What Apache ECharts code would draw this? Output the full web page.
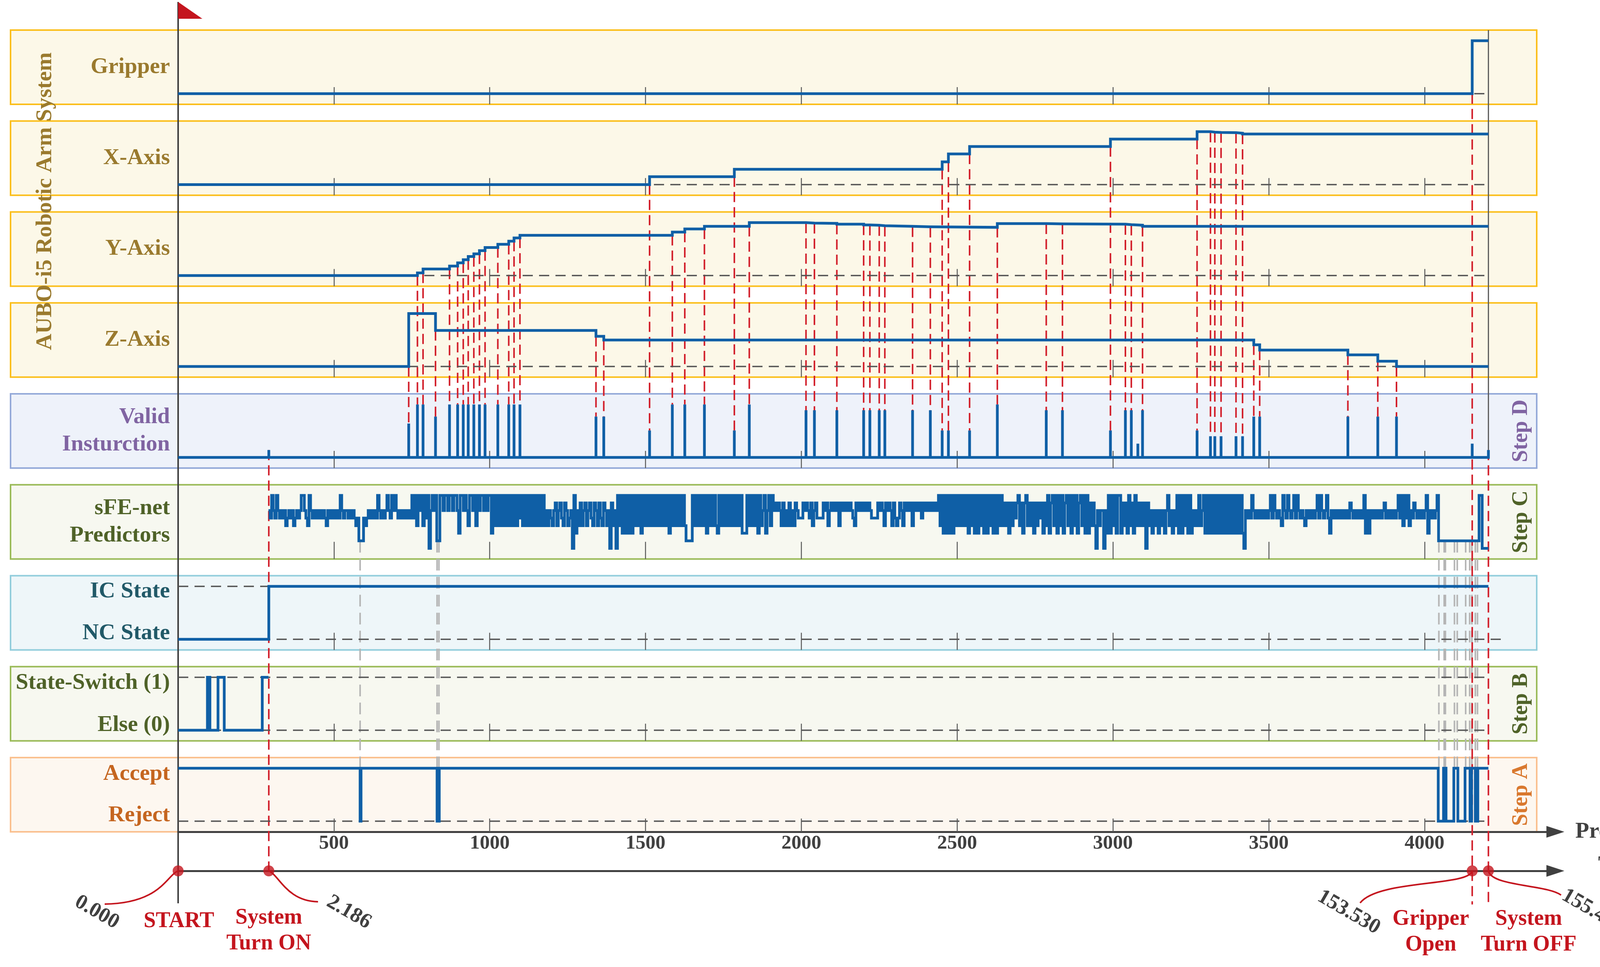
<!DOCTYPE html>
<html>
<head>
<meta charset="utf-8">
<script src="https://cdn.jsdelivr.net/npm/echarts@6.0.0/dist/echarts.min.js"></script>
<style>
html, body { margin: 0; padding: 0; background: #fff; }
#main { width: 4278px; height: 2475px; }
</style>
</head>
<body>
<div id="main"></div>
<script>
// ---- data (x in process units, levels normalised per panel) ----
var END = 4205;
var tickValues = [500, 1000, 1500, 2000, 2500, 3000, 3500, 4000];

var gripperSteps = [[0, 0], [4153, 1]];
var xAxisSteps = [[0, 0], [1513, 0.15], [1785, 0.29], [2452, 0.43], [2472, 0.58], [2540, 0.72], [2992, 0.86],
  [3270, 1.0], [3313, 0.99], [3327, 0.985], [3347, 0.98], [3395, 0.97], [3416, 0.955]];
var yAxisSteps = [[0, 0], [768, 0.05], [786, 0.125], [871, 0.18], [897, 0.24], [915, 0.30], [931, 0.36],
  [949, 0.41], [967, 0.47], [985, 0.53], [1026, 0.59], [1061, 0.65], [1078, 0.71], [1097, 0.76],
  [1586, 0.82], [1626, 0.88], [1689, 0.93], [1833, 1.0], [2015, 0.99], [2042, 0.985], [2114, 0.97],
  [2200, 0.955], [2220, 0.95], [2250, 0.94], [2268, 0.93], [2357, 0.92], [2414, 0.91], [2629, 0.98],
  [2786, 0.975], [2838, 0.97], [3040, 0.96], [3059, 0.95], [3095, 0.93]];
var zAxisSteps = [[0, 0], [740, 1.0], [826, 0.68], [1341, 0.57], [1366, 0.5], [3452, 0.41], [3471, 0.31],
  [3754, 0.22], [3850, 0.1], [3910, 0]];

var validX = [291, 740, 768, 786, 826, 871, 897, 915, 931, 949, 967, 985, 1026, 1061, 1078, 1097, 1341, 1366,
  1513, 1586, 1626, 1689, 1785, 1833, 2015, 2042, 2114, 2200, 2220, 2250, 2268, 2357, 2414, 2452, 2472, 2540,
  2629, 2786, 2838, 2992, 3040, 3059, 3080, 3095, 3270, 3313, 3327, 3347, 3395, 3416, 3452, 3471, 3754, 3850,
  3910, 4153, 4205];
var validH = [0.14, 0.64, 1, 1, 0.77, 1, 1, 1, 1, 1, 1, 1, 1, 1, 1, 1, 0.77, 0.77,
  0.51, 1, 1, 1, 0.51, 1, 0.89, 0.89, 0.89, 0.89, 0.89, 0.89, 0.89, 0.89, 0.89, 0.51, 0.51, 0.51,
  1, 0.89, 0.89, 0.51, 0.89, 0.89, 0.26, 0.89, 0.51, 0.4, 0.4, 0.4, 0.4, 0.4, 0.77, 0.77, 0.77, 0.77,
  0.77, 0.26, 0.14];

// sFE-net predictor class (0..7), one character per 5 process units from 290
var sfeStart = 290, sfeStep = 5;
var sfeLevels = [
  '54754754545345453454577543754545454543545454547545',
  '54545434111434545454754545754757545454545474737573',
  '74705757117757757757752775753775737577575772737373',
  '73737373737473737373737373735354356356436534507253',
  '63563564365364365350635073727272727373727373737373',
  '73737372737373737311117373737372737373273737373737',
  '37372227373737273572573756565363536353654446565463',
  '56444465635656563656565654365656565654444656536565',
  '36434653656563656564656565656573727272727373737372',
  '73727273727273727273736362636467362673636263646263',
  '72673727372673727372673727263630535505272737277263',
  '62736273636360635253525352573525372727372725353735',
  '72727272727272727272727272054547545454545457475454',
  '37547545747545435454545747545742545454545454654545',
  '45472525454545456454545457473747354654545457254545',
  '7' + '11111111111111111111111111' + '77' + '0000'
];

var icSteps = [[0, 0], [291, 1]];
var switchSteps = [[0, 0], [94, 1], [102, 0], [128, 1], [148, 0], [270, 1], [290, 1]];
var acceptSteps = [[0, 1], [584, 0], [587, 1], [831, 0], [838, 1], [4044, 0], [4061, 1], [4069, 0], [4094, 1],
  [4107, 0], [4130, 1], [4146, 0], [4151, 1], [4163, 0], [4171, 1]];
var greyLinkX = [584, 831, 837, 4046, 4063, 4067, 4096, 4105, 4132, 4145, 4152, 4163, 4170];

var eventX = [0, 291, 4153, 4205];
var eventTime = ['0.000', '2.186', '153.530', '155.479'];
var eventName = ['START', 'System\nTurn ON', 'Gripper\nOpen', 'System\nTurn OFF'];

// ---- layout ----
var PX = 0.7977, X0 = 456, XMAX = 4420;
var BOX_L = 27, BOX_R = 3934, TOP0 = 77, PITCH = 232.75, BOX_H = 190;
var BLUE = '#0f5fa6', RED = '#d21f2b', RED2 = '#c4151e', DARK = '#404040', SERIF = 'Liberation Serif';

var panels = [
  { fill: '#fcf8e8', stroke: '#fbbf1c', color: '#9a7a2e', labels: [[0.5, 'Gripper']] },
  { fill: '#fcf8e8', stroke: '#fbbf1c', color: '#9a7a2e', labels: [[0.5, 'X-Axis']] },
  { fill: '#fcf8e8', stroke: '#fbbf1c', color: '#9a7a2e', labels: [[0.5, 'Y-Axis']] },
  { fill: '#fcf8e8', stroke: '#fbbf1c', color: '#9a7a2e', labels: [[0.5, 'Z-Axis']] },
  { fill: '#eef2fa', stroke: '#95aad9', color: '#8064a2', labels: [[0.5, 'Valid\nInsturction']], step: 'Step D' },
  { fill: '#f7f8f0', stroke: '#9bbb59', color: '#4f6228', labels: [[3.5, 'sFE-net\nPredictors']], step: 'Step C', min: -1.4, max: 8.4 },
  { fill: '#eef6f9', stroke: '#92cddc', color: '#215968', labels: [[0.9, 'IC State'], [0.11, 'NC State']] },
  { fill: '#f7f8f0', stroke: '#9bbb59', color: '#4f6228', labels: [[0.89, 'State-Switch (1)'], [0.1, 'Else (0)']], step: 'Step B' },
  { fill: '#fdf7f0', stroke: '#fac08f', color: '#c5651f', labels: [[0.89, 'Accept'], [0.11, 'Reject']], step: 'Step A', stepColor: '#d9782e' }
];
var VALID = 4, SFE = 5, ACC = 8, TS = 9;

function withEnd(steps, end) {
  var d = steps.slice();
  d.push([end, steps[steps.length - 1][1]]);
  return d;
}
var sfeStr = sfeLevels.join('');
var sfeData = [];
for (var i = 0; i < sfeStr.length; i++) sfeData.push([sfeStart + i * sfeStep, +sfeStr[i]]);
sfeData.push([END, sfeData[sfeData.length - 1][1]]);
function sfeAt(x) { return +sfeStr[Math.floor((x - sfeStart) / sfeStep)]; }

var validData = [[0, 0]];
validX.forEach(function (x, k) {
  validData.push([x, 0], [x, validH[k]]);
  if (x < END) validData.push([x, 0]);
});

var panelData = [
  withEnd(gripperSteps, END), withEnd(xAxisSteps, END), withEnd(yAxisSteps, END), withEnd(zAxisSteps, END),
  validData, sfeData, withEnd(icSteps, END), switchSteps, withEnd(acceptSteps, END)
];
var refLines = [
  [[0, END]], [[0, END]], [[0, END]], [[0, END]], [], [],
  [[1, END], [0, 4245]], [[1, END], [0, END]], [[0, END]]
];

var grids = [], xAxes = [], yAxes = [], series = [];
panels.forEach(function (p, i) {
  var last = i === ACC;
  grids.push({ left: X0, top: TOP0 + i * PITCH, width: XMAX * PX, height: BOX_H });
  xAxes.push({
    type: 'value', gridIndex: i, min: 0, max: XMAX, z: 2,
    axisLine: { show: last, onZero: false, symbol: ['none', 'triangle'], symbolSize: [30, 46],
      lineStyle: { color: DARK, width: 5 } },
    axisTick: { show: true, inside: true, length: last ? 34 : 44, customValues: tickValues,
      lineStyle: { color: '#5a5a5a', width: 2.5 } },
    axisLabel: { show: last, customValues: tickValues, margin: 4, color: DARK,
      fontFamily: SERIF, fontWeight: 'bold', fontSize: 51,
      formatter: function (v) { return String(v); } },
    splitLine: { show: false },
    name: last ? 'Process' : '', nameLocation: 'end', nameGap: 51,
    nameTextStyle: { color: DARK, fontFamily: SERIF, fontWeight: 'bold', fontSize: 58 }
  });
  yAxes.push({
    type: 'value', gridIndex: i, min: p.min != null ? p.min : -0.2, max: p.max != null ? p.max : 1.2, z: 2,
    axisLine: { show: false }, axisTick: { show: false }, splitLine: { show: false },
    axisLabel: {
      customValues: p.labels.map(function (l) { return l[0]; }),
      formatter: function (v) {
        for (var k = 0; k < p.labels.length; k++) if (Math.abs(p.labels[k][0] - v) < 1e-6) return p.labels[k][1];
        return '';
      },
      margin: 21, color: p.color, fontFamily: SERIF, fontWeight: 'bold', fontSize: 58, lineHeight: 70
    }
  });
  refLines[i].forEach(function (r) {
    series.push({ type: 'line', xAxisIndex: i, yAxisIndex: i, data: [[0, r[0]], [r[1], r[0]]],
      symbol: 'none', silent: true, z: 4, lineStyle: { color: '#555', width: 3.5, type: [26, 16] } });
  });
  series.push({ type: 'line', xAxisIndex: i, yAxisIndex: i, data: panelData[i], step: i === VALID ? false : 'end',
    symbol: 'none', silent: true, z: 5, lineStyle: { color: BLUE, width: 7, join: 'miter' } });
});

// time axis (T/s)
grids.push({ left: X0, top: 2199, width: XMAX * PX, height: 30 });
xAxes.push({ type: 'value', gridIndex: TS, min: 0, max: XMAX, z: 2,
  axisLine: { show: true, onZero: false, symbol: ['none', 'triangle'], symbolSize: [30, 46],
    lineStyle: { color: DARK, width: 5 } },
  axisTick: { show: false }, axisLabel: { show: false }, splitLine: { show: false } });
yAxes.push({ type: 'value', gridIndex: TS, min: 0, max: 1, show: false });
series.push({ type: 'scatter', xAxisIndex: TS, yAxisIndex: TS, data: eventX.map(function (x) { return [x, 0]; }),
  symbolSize: 28, clip: false, silent: true, z: 6, itemStyle: { color: RED2 } });

var chart = echarts.init(document.getElementById('main'));
chart.setOption({ animation: false, backgroundColor: '#fff', grid: grids, xAxis: xAxes, yAxis: yAxes, series: series });

// ---- overlay drawn from the library's own scales ----
function P(g, x, y) { return chart.convertToPixel({ gridIndex: g }, [x, y]); }
function txt(x, y, text, color, size, rot, extra) {
  var st = { text: text, fill: color, font: 'bold ' + size + 'px "Liberation Serif"',
    align: 'center', verticalAlign: 'middle', textAlign: 'center', textVerticalAlign: 'middle' };
  if (extra) for (var k in extra) st[k] = extra[k];
  return { type: 'text', x: x, y: y, rotation: rot || 0, z: 4, silent: true, style: st };
}
function vline(x, y1, y2, color, w, dash, z) {
  return { type: 'line', z: z || 3, silent: true, shape: { x1: x, y1: y1, x2: x, y2: y2 },
    style: { stroke: color, lineWidth: w, lineDash: dash || null } };
}
var els = [];
panels.forEach(function (p, i) {
  var top = TOP0 + i * PITCH;
  els.push({ type: 'rect', z: 0, silent: true, shape: { x: BOX_L, y: top, width: BOX_R - BOX_L, height: BOX_H },
    style: { fill: p.fill, stroke: p.stroke, lineWidth: 4 } });
  if (p.step) els.push(txt(3895, top + BOX_H / 2, p.step, p.stepColor || p.color, 56, Math.PI / 2));
});
els.push(txt(116, 515, 'AUBO-i5 Robotic Arm System', '#9a7a2e', 58, Math.PI / 2));

var ax = P(0, 0, 0)[0];
els.push(vline(ax, 5, 2312, DARK, 4, null, 4));
els.push({ type: 'polygon', z: 4, silent: true, shape: { points: [[ax, 5], [ax + 62, 48], [ax, 48]] },
  style: { fill: RED2 } });
var endX = P(0, END, 0)[0];
els.push(vline(endX, TOP0, P(VALID, END, validH[validH.length - 1])[1], '#5a5a5a', 3, null, 3));

var armSteps = [gripperSteps, xAxisSteps, yAxisSteps, zAxisSteps];
var tsY = P(TS, 0, 0)[1];
var eventExt = [0, 0, 86, 86];
validX.forEach(function (x, k) {
  var spike = P(VALID, x, validH[k]);
  var upper = null, lower = null;
  armSteps.forEach(function (s, a) {
    for (var j = 1; j < s.length; j++) if (s[j][0] === x) {
      upper = P(a, x, Math.min(s[j][1], s[j - 1][1]))[1];
      lower = spike[1];
    }
  });
  var ev = eventX.indexOf(x);
  if (ev > 0) {
    if (upper === null) upper = spike[1];
    lower = tsY + eventExt[ev];
  }
  if (upper !== null) els.push(vline(spike[0], upper, lower, RED, 4, [26, 13]));
});

greyLinkX.forEach(function (x) {
  var a = P(SFE, x, sfeAt(x)), b = P(ACC, x, 1);
  els.push(vline(a[0], a[1], b[1], '#b5b5b5', 4, [30, 16], 2));
});

var axEnd = P(TS, XMAX, 0);
els.push(txt(axEnd[0] + 148, axEnd[1] - 14, 'T/s', DARK, 58, 0));

var eventCurve = [[-30, 12, -45, 83, -188, 85], [27, 12, 47, 78, 126, 79],
  [-8, 40, -240, 22, -287, 82], [8, 40, 150, 35, 186, 62]];
var eventTimePos = [[-208, 106], [205, 106], [-316, 106], [268, 103]];
var eventNamePos = [[2, 130], [0, 154], [-106, 157], [103, 157]];
eventX.forEach(function (x, k) {
  var d = P(TS, x, 0), c = eventCurve[k];
  els.push({ type: 'bezierCurve', z: 4, silent: true,
    shape: { x1: d[0], y1: d[1], cpx1: d[0] + c[0], cpy1: d[1] + c[1], cpx2: d[0] + c[2], cpy2: d[1] + c[3],
      x2: d[0] + c[4], y2: d[1] + c[5] },
    style: { stroke: RED2, lineWidth: 4, fill: 'none' } });
  els.push(txt(d[0] + eventTimePos[k][0], d[1] + eventTimePos[k][1], eventTime[k], DARK, 54, -Math.PI / 6));
  els.push(txt(d[0] + eventNamePos[k][0], d[1] + eventNamePos[k][1], eventName[k], RED2, 56, 0, { lineHeight: 66 }));
});

chart.setOption({ graphic: { elements: els } });
</script>
</body>
</html>
